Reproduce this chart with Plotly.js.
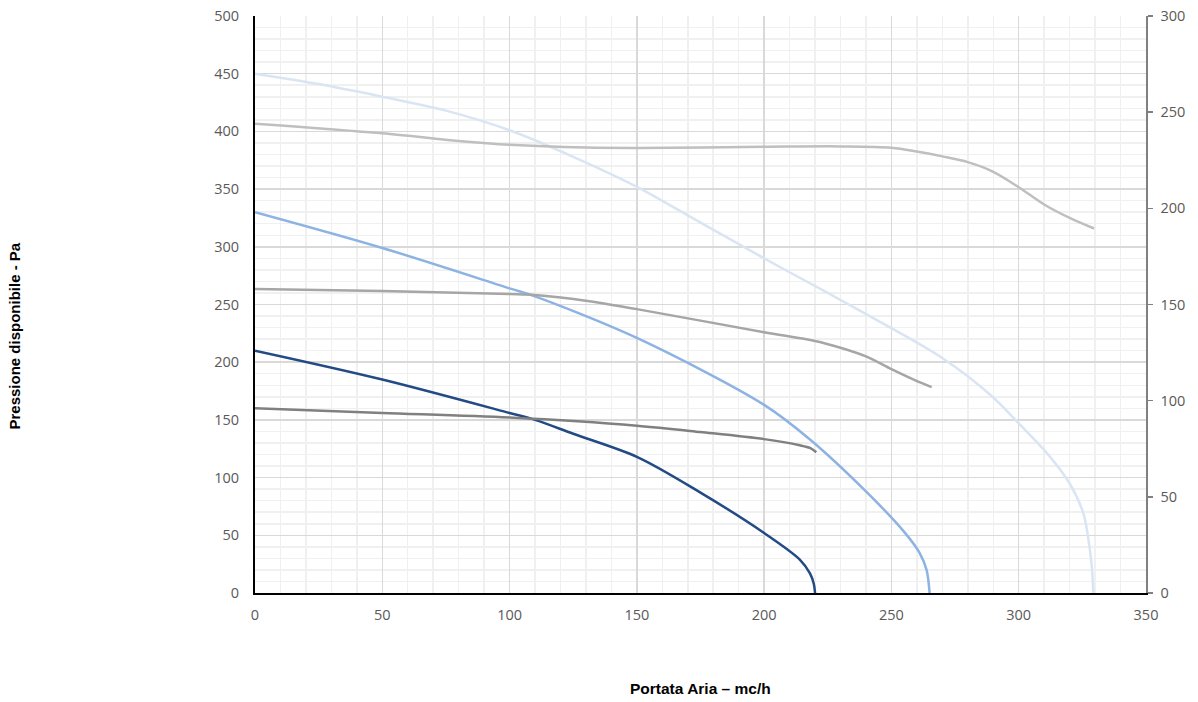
<!DOCTYPE html>
<html>
<head>
<meta charset="utf-8">
<script src="https://cdn.plot.ly/plotly-3.0.1.min.js"></script>
<style>
html,body{margin:0;padding:0;background:#fff;}
#chart{width:1198px;height:702px;}
</style>
</head>
<body>
<div id="chart"></div>
<script>
// Pressure curves (left axis, Pa) vs airflow (mc/h)
const curveLightX = [0, 25, 50, 75, 100, 125, 150, 175, 200, 225, 245.5, 270.4, 288.7, 300, 312.3, 320, 325.4, 327.4, 328.7, 329.3];
const curveLightY = [450, 441, 430, 418, 401, 378, 352, 321, 290, 260, 235, 203, 172, 147, 118, 95, 69, 46, 23, 0];

const curveMidX = [0, 50, 100, 110, 150, 200, 218, 240, 255, 261, 263.8, 265];
const curveMidY = [330, 299, 264, 257, 221, 163, 133, 88, 53, 35, 20, 0];

const curveDarkX = [0, 50, 100, 110, 125, 150, 175, 200, 214, 218, 219.5, 220];
const curveDarkY = [210, 185, 156, 150, 138, 118, 87, 52, 29, 17, 8, 0];

// Grey curves (right axis)
const grey1X = [0, 50, 80, 100, 130, 150, 200, 230, 250, 260, 270, 280, 290, 300, 310, 320, 329.6];
const grey1Y = [244, 239, 235, 233, 231.6, 231.4, 232, 232.2, 231.5, 229.5, 227, 224, 219, 211, 202, 195, 189.5];

const grey2X = [0, 50, 100, 110, 130, 150, 200, 220, 230, 240, 250, 259, 265.8];
const grey2Y = [158, 157, 155.5, 155, 152, 147.6, 135.6, 131, 127.5, 123, 116.4, 110.8, 107];

const grey3X = [0, 50, 100, 150, 175, 200, 214, 218, 220.5];
const grey3Y = [96, 93.6, 91.2, 87, 83.7, 80, 76.8, 75.4, 73.2];

const xTitle = 'Portata Aria \u2013 mc/h';
const yTitle = 'Pressione disponibile - Pa';

function tr(x, y, color, axis) {
  return {
    x: x, y: y, type: 'scatter', mode: 'lines', yaxis: axis,
    line: {color: color, width: 2.5, shape: 'spline', smoothing: 0.9},
    hoverinfo: 'skip', showlegend: false
  };
}

const data = [
  tr(grey1X, grey1Y, '#bfbfbf', 'y2'),
  tr(grey2X, grey2Y, '#a6a6a6', 'y2'),
  tr(grey3X, grey3Y, '#808080', 'y2'),
  tr(curveLightX, curveLightY, '#dae5f3', 'y'),
  tr(curveMidX, curveMidY, '#8db3e2', 'y'),
  tr(curveDarkX, curveDarkY, '#224a85', 'y')
];

const tickFont = {family: 'Open Sans', size: 14.5, color: '#595959'};

const layout = {
  width: 1198, height: 702,
  margin: {l: 255, r: 52, t: 16, b: 109, pad: 0},
  paper_bgcolor: '#ffffff', plot_bgcolor: '#ffffff',
  showlegend: false,
  xaxis: {
    range: [0, 350], tickmode: 'linear', tick0: 0, dtick: 50,
    showgrid: true, gridcolor: '#d9d9d9', gridwidth: 1.5,
    minor: {dtick: 10, showgrid: true, gridcolor: '#f0f0f0', gridwidth: 1.5},
    showline: true, linecolor: '#000000', linewidth: 2,
    zeroline: false, ticks: '', tickfont: tickFont, ticklabelstandoff: 8,
    fixedrange: true
  },
  yaxis: {
    range: [0, 500], tickmode: 'linear', tick0: 0, dtick: 50,
    showgrid: true, gridcolor: '#d9d9d9', gridwidth: 1.5,
    minor: {dtick: 10, showgrid: true, gridcolor: '#f0f0f0', gridwidth: 1.5},
    showline: true, linecolor: '#000000', linewidth: 2,
    zeroline: false, ticks: '', tickfont: tickFont, ticklabelstandoff: 11,
    fixedrange: true
  },
  yaxis2: {
    range: [0, 300], overlaying: 'y', side: 'right',
    tickmode: 'linear', tick0: 0, dtick: 50,
    showgrid: false, zeroline: false,
    showline: true, linecolor: '#808080', linewidth: 1.5,
    ticks: 'outside', ticklen: 5, tickcolor: '#808080', tickwidth: 1.5,
    tickfont: tickFont, ticklabelstandoff: 5, fixedrange: true
  },
  annotations: [
    {text: '<b>' + xTitle + '</b>', xref: 'paper', yref: 'paper', x: 0.5, y: -0.166,
     xanchor: 'center', yanchor: 'middle', showarrow: false,
     font: {family: 'Liberation Sans, Arial', size: 15.5, color: '#000000'}},
    {text: '<b>' + yTitle + '</b>', xref: 'paper', yref: 'paper', x: -0.271, y: 0.4454,
     xanchor: 'center', yanchor: 'middle', textangle: -90, showarrow: false,
     font: {family: 'Liberation Sans, Arial', size: 15, color: '#000000'}}
  ]
};

Plotly.newPlot('chart', data, layout, {displayModeBar: false, staticPlot: true});
</script>
</body>
</html>
